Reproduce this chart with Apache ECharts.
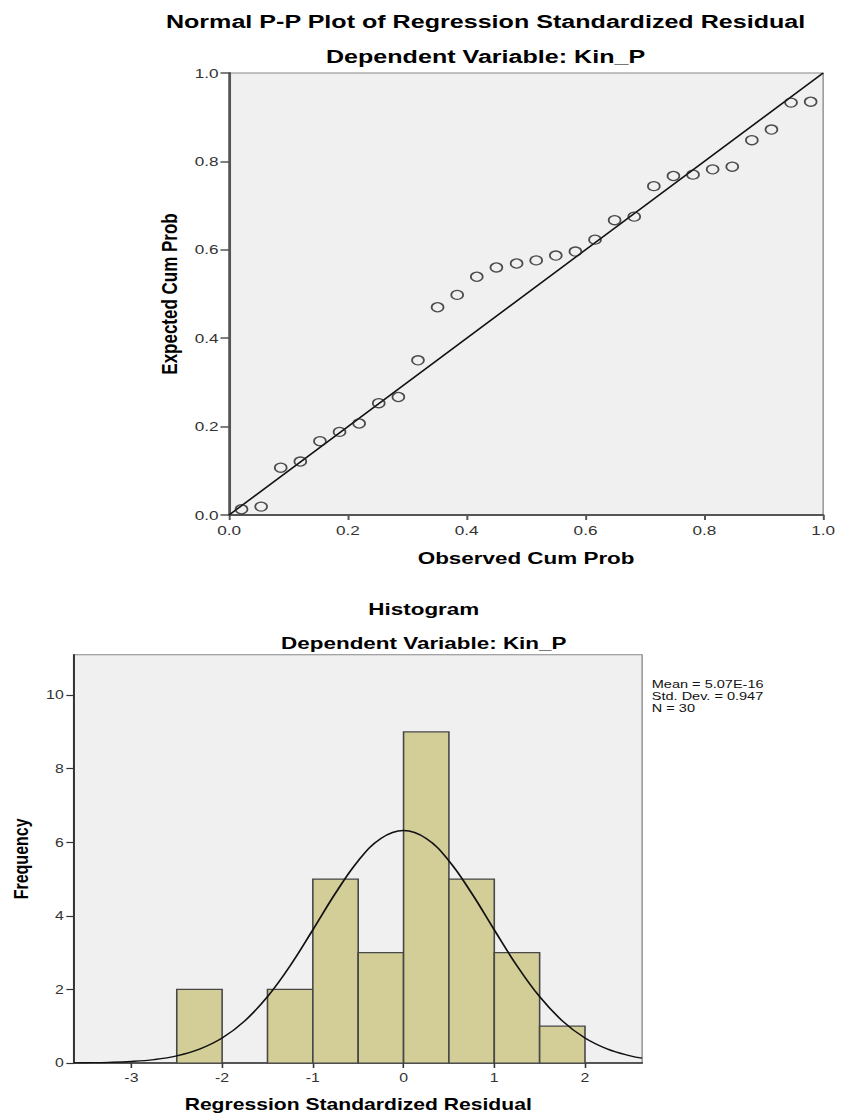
<!DOCTYPE html>
<html>
<head>
<meta charset="utf-8">
<script src="https://cdn.jsdelivr.net/npm/echarts@6/dist/echarts.min.js"></script>
<style>
html,body{margin:0;padding:0;background:#fff;overflow:hidden;}
#wrap{width:841px;height:1113px;overflow:hidden;}
#chart{width:637px;height:1113px;transform:scaleX(1.3202);transform-origin:0 0;}
</style>
</head>
<body>
<div id="wrap"><div id="chart"></div></div>
<script>
// ---------- P-P plot data ----------
var observedCumProb = [0.021,0.054,0.087,0.120,0.153,0.186,0.219,0.252,0.285,0.318,
  0.351,0.384,0.417,0.450,0.484,0.517,0.550,0.583,0.616,0.649,
  0.682,0.715,0.748,0.781,0.814,0.847,0.880,0.913,0.946,0.979];
var expectedCumProb = [0.013,0.019,0.107,0.121,0.167,0.188,0.207,0.253,0.267,0.350,
  0.470,0.498,0.539,0.560,0.569,0.576,0.587,0.596,0.623,0.667,
  0.675,0.744,0.767,0.770,0.782,0.788,0.848,0.872,0.933,0.935];
var refLine = [0, 1];
var ppTicks = [0.0, 0.2, 0.4, 0.6, 0.8, 1.0];

// ---------- Histogram data ----------
var binEdges = [-2.5,-2,-1.5,-1,-0.5,0,0.5,1,1.5,2];
var binCounts = [2,0,2,5,3,9,5,3,1];
var histXTicks = [-3,-2,-1,0,1,2];
var histYTicks = [0,2,4,6,8,10];
// normal curve
var curveX = [-3.63,-3.5,-3.25,-3,-2.75,-2.5,-2.25,-2,-1.75,-1.5,-1.25,-1,-0.75,-0.5,-0.25,0,
  0.25,0.5,0.75,1,1.25,1.5,1.75,2,2.25,2.5,2.63];
var curveY = [0.004,0.007,0.018,0.042,0.093,0.194,0.376,0.679,1.146,1.802,2.644,3.619,4.618,5.497,6.103,6.319,
  6.103,5.497,4.618,3.619,2.644,1.802,1.146,0.679,0.376,0.194,0.134];
var statsLines = ['Mean = 5.07E-16','Std. Dev. = 0.947','N = 30'];

var FONT = "'Liberation Sans', Arial, sans-serif";

var ppData = observedCumProb.map(function(x,i){return [x, expectedCumProb[i]];});
var lineData = refLine.map(function(v){return [v, v];});
var histData = binCounts.map(function(c,i){return [binEdges[i], binEdges[i+1], c];});
var curveData = curveX.map(function(x,i){return [x, curveY[i]];});

var chart = echarts.init(document.getElementById('chart'), null, {renderer:'svg'});

var tickLabel = {color:'#333', fontFamily:FONT};

chart.setOption({
  animation:false,
  backgroundColor:'#ffffff',
  title:[
    {text:'Normal P-P Plot of Regression Standardized Residual', left:367.8, top:12, padding:0, textAlign:'center',
      textStyle:{fontFamily:FONT,fontWeight:'bold',fontSize:19,color:'#000'}},
    {text:'Dependent Variable: Kin_P', left:367.8, top:47, padding:0, textAlign:'center',
      textStyle:{fontFamily:FONT,fontWeight:'bold',fontSize:19,color:'#000'}},
    {text:'Histogram', left:321, top:600.5, padding:0, textAlign:'center',
      textStyle:{fontFamily:FONT,fontWeight:'bold',fontSize:17,color:'#000'}},
    {text:'Dependent Variable: Kin_P', left:321, top:634.5, padding:0, textAlign:'center',
      textStyle:{fontFamily:FONT,fontWeight:'bold',fontSize:17,color:'#000'}},
    {text:statsLines.join('\n'), left:493.7, top:678, padding:0,
      textStyle:{fontFamily:FONT,fontWeight:'normal',fontSize:11,lineHeight:12,color:'#111'}}
  ],
  grid:[
    {left:173.5, top:73, width:450, height:442, show:true, backgroundColor:'#f0f0f0', borderColor:'#888', borderWidth:1},
    {left:53, top:654.7, width:433.4, height:409, show:true, backgroundColor:'#f0f0f0', borderColor:'#888', borderWidth:1}
  ],
  xAxis:[
    {gridIndex:0, type:'value', min:0, max:1, interval:0.2,
      name:'Observed Cum Prob', nameLocation:'middle', nameGap:35,
      nameTextStyle:{fontFamily:FONT,fontWeight:'bold',fontSize:17,color:'#000'},
      axisLine:{show:true,onZero:false,lineStyle:{color:'#555',width:2}},
      axisTick:{show:true,length:5,lineStyle:{color:'#555',width:1.5}},
      axisLabel:Object.assign({fontSize:13,margin:9,formatter:function(v){return v.toFixed(1);}},tickLabel),
      splitLine:{show:false}},
    {gridIndex:1, type:'value', min:-3.63, max:2.63,
      name:'Regression Standardized Residual', nameLocation:'middle', nameGap:33,
      nameTextStyle:{fontFamily:FONT,fontWeight:'bold',fontSize:16,color:'#000'},
      axisLine:{show:true,onZero:false,lineStyle:{color:'#333',width:1.5}},
      axisTick:{show:true,length:5,customValues:histXTicks,lineStyle:{color:'#333',width:1.2}},
      axisLabel:Object.assign({fontSize:12,margin:9,customValues:histXTicks},tickLabel),
      splitLine:{show:false}}
  ],
  yAxis:[
    {gridIndex:0, type:'value', min:0, max:1, interval:0.2,
      name:'Expected Cum Prob', nameLocation:'middle', nameGap:37,
      nameTextStyle:{fontFamily:FONT,fontWeight:'bold',fontSize:17,color:'#000'},
      axisLine:{show:true,onZero:false,lineStyle:{color:'#555',width:2}},
      axisTick:{show:true,length:6.5,lineStyle:{color:'#555',width:1.5}},
      axisLabel:Object.assign({fontSize:13,margin:8,formatter:function(v){return v.toFixed(1);}},tickLabel),
      splitLine:{show:false}},
    {gridIndex:1, type:'value', min:0, max:11.1,
      name:'Frequency', nameLocation:'middle', nameGap:30,
      nameTextStyle:{fontFamily:FONT,fontWeight:'bold',fontSize:16,color:'#000'},
      axisLine:{show:true,onZero:false,lineStyle:{color:'#333',width:1.5}},
      axisTick:{show:true,length:6,customValues:histYTicks,lineStyle:{color:'#333',width:1.2}},
      axisLabel:Object.assign({fontSize:12,margin:8,customValues:histYTicks},tickLabel),
      splitLine:{show:false}}
  ],
  series:[
    {type:'line', xAxisIndex:0, yAxisIndex:0, data:lineData, symbol:'none',
      lineStyle:{color:'#111',width:1.4}, z:2, silent:true},
    {type:'scatter', xAxisIndex:0, yAxisIndex:0, data:ppData, symbol:'circle', symbolSize:9,
      itemStyle:{color:'rgba(0,0,0,0)',borderColor:'#222',borderWidth:1.3}, z:3},
    {type:'custom', xAxisIndex:1, yAxisIndex:1, data:histData, z:2,
      renderItem:function(params, api){
        var x0 = api.value(0), x1 = api.value(1), c = api.value(2);
        if (!c) return null;
        var p0 = api.coord([x0, c]);
        var p1 = api.coord([x1, 0]);
        return {type:'rect', shape:{x:p0[0], y:p0[1], width:p1[0]-p0[0], height:p1[1]-p0[1]},
          style:{fill:'#d3ce97', stroke:'#474747', lineWidth:1.2}};
      },
      encode:{x:[0,1], y:2}},
    {type:'line', xAxisIndex:1, yAxisIndex:1, data:curveData, symbol:'none', smooth:0.4, clip:true,
      lineStyle:{color:'#111',width:1.4}, z:3, silent:true}
  ]
});
</script>
</body>
</html>
